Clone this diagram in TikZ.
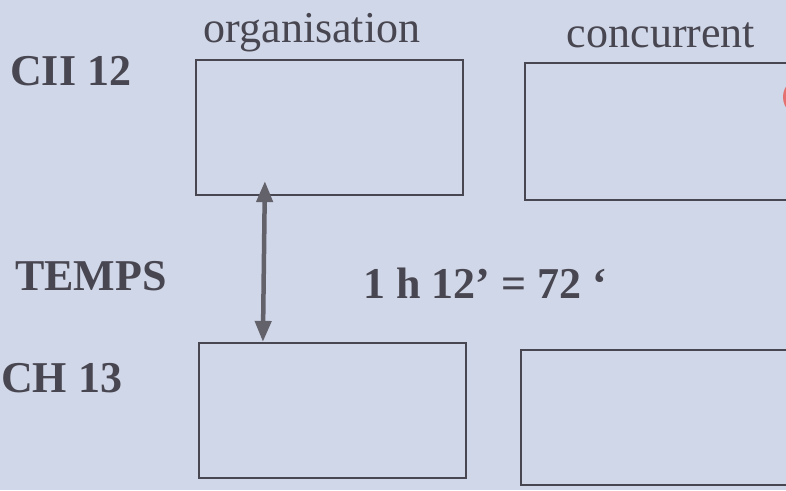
\documentclass[tikz,border=0pt]{standalone}
\usepackage{fontspec}
\setmainfont{Liberation Serif}
\usetikzlibrary{arrows.meta}
\definecolor{fond}{RGB}{208,215,232}
\definecolor{encre}{RGB}{72,70,80}
\definecolor{pastille}{RGB}{228,112,112}

\begin{document}
\begin{tikzpicture}[x=1pt,y=-1pt,line cap=round,
  case/.style={draw=encre,line width=2.2pt,inner sep=0pt,minimum width=267pt,minimum height=135pt},
  titre/.style={font=\fontsize{44}{50}\selectfont,text=encre,inner sep=0pt,anchor=base},
  etiq/.style={font=\fontsize{44}{50}\selectfont\bfseries,text=encre,inner sep=0pt,anchor=base west},
  fleche/.style={{Triangle[length=21pt,width=16pt]}-{Triangle[length=21pt,width=16pt]},line width=4.5pt,draw=encre!85!white}]
\useasboundingbox (0,0) rectangle (786,490);
\clip (0,0) rectangle (786,490);
\fill[fond] (0,0) rectangle (786,490);
\fill[pastille] (803,97) circle (20);
\node[titre] (hdOrg) at (312,42) {organisation};
\node[titre] (hdConc) at (661,47) {concurrent};
\node[etiq] (lblCII) at (10,85) {CII 12};
\node[etiq] (lblTemps) at (15,290) {TEMPS};
\node[etiq] (lblDuree) at (363,298) {1 h 12' = 72 `};
\node[etiq] (lblCH) at (1,392) {CH 13};
\node[case] (org12) at (329.5,127.5) {};
\node[case,minimum width=285pt,minimum height=137pt] (conc12) at (667.5,131.5) {};
\node[case] (org13) at (332.5,410.5) {};
\node[case,minimum width=285pt] (conc13) at (663.5,417.5) {};
\draw[fleche] ([xshift=70pt,yshift=15pt]org12.south west) -- ([xshift=65pt]org13.north west);
\end{tikzpicture}
\end{document}
